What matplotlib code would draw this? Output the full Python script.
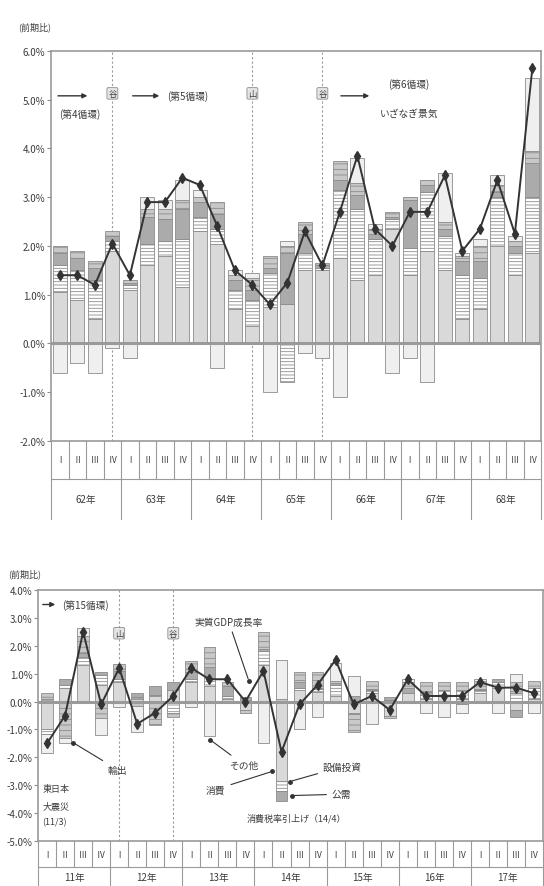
import numpy as np
import matplotlib
matplotlib.use("Agg")
import matplotlib.pyplot as plt

plt.rcParams['font.family'] = ['Noto Sans CJK JP', 'DejaVu Sans']
plt.rcParams['hatch.color'] = '#8c8c8c'
plt.rcParams['hatch.linewidth'] = 0.6

# data (前期比, %)
quarters = ["Ⅰ", "Ⅱ", "Ⅲ", "Ⅳ"]
years_top = ["62年", "63年", "64年", "65年", "66年", "67年", "68年"]
years_bot = ["11年", "12年", "13年", "14年", "15年", "16年", "17年"]
comp_names = ["消費", "設備投資", "公需", "輸出", "その他"]

# 1962-1968
gdp_top = [1.4, 1.4, 1.2, 2.05, 1.4, 2.9, 2.9, 3.4, 3.25, 2.4, 1.5, 1.2, 0.8, 1.25,
           2.3, 1.6, 2.7, 3.85, 2.35, 2.0, 2.7, 2.7, 3.45, 1.9, 2.35, 3.35, 2.25, 5.65]
cons_top = [1.05, 0.9, 0.5, 1.9, 1.1, 1.6, 1.8, 1.15, 2.3, 2.05, 0.7, 0.35, 0.75, 0.8,
            1.5, 1.5, 1.75, 1.3, 1.4, 2.35, 1.4, 1.9, 1.5, 0.5, 0.7, 2.0, 1.4, 1.85]
inv_top = [0.55, 0.6, 0.8, 0.2, 0.1, 0.45, 0.3, 1.0, 0.3, 0.3, 0.4, 0.55, 0.7, -0.8,
           0.35, 0.05, 1.4, 1.45, 0.75, 0.2, 0.55, 1.2, 0.7, 0.9, 0.65, 1.0, 0.45, 1.15]
pub_top = [0.25, 0.25, 0.25, 0.1, 0.05, 0.55, 0.45, 0.6, 0.3, 0.3, 0.2, 0.2, 0.1, 1.05,
           0.4, 0.05, 0.2, 0.3, 0.1, 0.05, 1.0, 0.15, 0.15, 0.3, 0.35, 0.1, 0.15, 0.7]
exp_top = [0.15, 0.15, 0.15, 0.1, 0.05, 0.15, 0.2, 0.2, 0.1, 0.25, 0.1, 0.25, 0.25, 0.15,
           0.25, 0.05, 0.4, 0.25, 0.1, 0.1, 0.05, 0.1, 0.15, 0.1, 0.3, 0.15, 0.1, 0.25]
oth_top = [-0.6, -0.4, -0.6, -0.1, -0.3, 0.25, 0.2, 0.4, 0.15, -0.5, 0.1, 0.1, -1.0, 0.1,
           -0.2, -0.3, -1.1, 0.5, 0.1, -0.6, -0.3, -0.8, 1.0, 0.05, 0.15, 0.2, 0.1, 1.5]

# 2011-2017
gdp_bot = [-1.5, -0.5, 2.5, -0.1, 1.2, -0.8, -0.4, 0.2, 1.2, 0.8, 0.8, 0.0, 1.1, -1.8,
           -0.1, 0.6, 1.5, -0.1, 0.2, -0.3, 0.8, 0.2, 0.2, 0.2, 0.7, 0.5, 0.5, 0.3]
cons_bot = [-1.0, 0.5, 1.3, 0.6, 0.7, 0.1, 0.2, 0.4, 0.7, 0.55, 0.1, -0.3, 1.3, -2.85,
            0.4, 0.35, 0.2, -0.4, 0.3, -0.5, 0.3, 0.1, 0.2, 0.1, 0.3, 0.5, -0.3, 0.1]
inv_bot = [-0.15, 0.1, 0.3, 0.35, 0.1, 0.05, 0.05, -0.4, 0.1, 0.3, 0.1, 0.05, 0.5, -0.35,
           0.1, 0.1, 0.4, -0.05, 0.1, 0.05, 0.0, 0.15, 0.2, 0.3, 0.1, 0.2, 0.3, 0.4]
pub_bot = [0.1, 0.2, 0.15, 0.1, 0.3, 0.15, 0.3, 0.3, 0.25, 0.4, 0.35, 0.1, 0.1, -0.35,
           0.2, 0.05, 0.05, 0.2, 0.05, 0.1, 0.2, 0.1, 0.0, -0.1, 0.05, 0.1, -0.25, 0.0]
exp_bot = [0.2, -1.3, 0.6, -0.6, 0.25, -0.15, -0.8, -0.15, 0.4, 0.7, 0.15, -0.1, 0.6, 0.1,
           0.35, 0.55, 0.1, -0.65, 0.3, -0.1, 0.2, 0.35, 0.3, 0.3, 0.3, 0.0, 0.4, 0.25]
oth_bot = [-0.7, -0.2, 0.3, -0.6, -0.2, -0.95, -0.05, 0.0, -0.2, -1.25, -0.05, 0.0, -1.5, 1.4,
           -1.0, -0.55, 0.65, 0.7, -0.8, 0.0, 0.1, -0.4, -0.55, -0.3, 0.05, -0.4, 0.3, -0.4]

styles = [
    dict(color='#d9d9d9'),
    dict(color='white', hatch='-----'),
    dict(color='#ababab'),
    dict(color='#c8c8c8', hatch='---'),
    dict(color='#efefef'),
]
edge = '#8c8c8c'
txt = '#3c3c3c'


def draw_stack(ax, comps, width):
    x = np.arange(len(comps[0]))
    pos_base = np.zeros(len(x))
    neg_base = np.zeros(len(x))
    for vals, st in zip(comps, styles):
        v = np.array(vals, dtype=float)
        for part, base in ((np.clip(v, 0, None), pos_base), (np.clip(v, None, 0), neg_base)):
            m = part != 0
            ax.bar(x[m], part[m], width, bottom=base[m], edgecolor=edge,
                   linewidth=0.6, zorder=2, **st)
            base += part


def draw_table(ax, years, h1, h2, fs):
    tr = ax.get_xaxis_transform()
    n = len(years) * 4
    for i in range(n + 1):
        xb = i - 0.5
        if i % 4 == 0:
            ax.plot([xb, xb], [0, -h1 - h2], color='#9a9a9a', lw=0.8,
                    transform=tr, clip_on=False)
        else:
            ax.plot([xb, xb], [0, -h1], color='#9a9a9a', lw=0.8,
                    transform=tr, clip_on=False)
    ax.plot([-0.5, n - 0.5], [-h1, -h1], color='#9a9a9a', lw=0.8,
            transform=tr, clip_on=False)
    for i in range(n):
        ax.text(i, -h1 / 2, quarters[i % 4], transform=tr, ha='center',
                va='center', fontsize=fs - 1, color=txt)
    for k, y in enumerate(years):
        ax.text(4 * k + 1.5, -h1 - h2 / 2, y, transform=tr, ha='center',
                va='center', fontsize=fs, color=txt)


def style_axes(ax, lo, hi):
    ax.set_xlim(-0.5, 27.5)
    ax.set_ylim(lo, hi)
    ax.set_xticks([])
    ticks = np.arange(lo, hi + 0.01, 1.0)
    ax.set_yticks(ticks)
    ax.set_yticklabels([f"{t:.1f}%" for t in ticks], fontsize=7, color=txt)
    ax.tick_params(axis='y', length=3, width=0.8, color='#8c8c8c', pad=1)
    for s in ax.spines.values():
        s.set_color('#9a9a9a')
        s.set_linewidth(1.2)
    ax.axhline(0, color='#9a9a9a', lw=2.2, zorder=3)


fig = plt.figure(figsize=(5.44, 8.87), dpi=100)

# ---- top chart ----
ax1 = fig.add_axes([0.094, 0.5017, 0.9007, 0.4397])
style_axes(ax1, -2, 6)
draw_stack(ax1, [cons_top, inv_top, pub_top, exp_top, oth_top], 0.8)
x = np.arange(28)
ax1.plot(x, gdp_top, color='#333333', lw=1.4, marker='d', ms=5, zorder=4)
for xv in (3, 11, 15):
    ax1.axvline(xv, color='#9a9a9a', lw=0.8, ls=(0, (2, 2)), zorder=1)
for xv, lab in ((3, "谷"), (11, "山"), (15, "谷")):
    ax1.text(xv, 5.13, lab, ha='center', va='center', fontsize=6, color=txt, zorder=5,
             bbox=dict(boxstyle='round,pad=0.15', fc='#e6e6e6', ec='#8c8c8c', lw=0.6))
arr = dict(arrowstyle='-|>', color='#333333', lw=1.0, mutation_scale=7)
ax1.annotate("", xy=(1.73, 5.08), xytext=(-0.27, 5.08), arrowprops=arr)
ax1.text(1.16, 4.72, "(第4循環)", ha='center', va='center', fontsize=7, color=txt)
ax1.annotate("", xy=(5.84, 5.08), xytext=(4.0, 5.08), arrowprops=arr)
ax1.text(7.3, 5.08, "(第5循環)", ha='center', va='center', fontsize=7, color=txt)
ax1.annotate("", xy=(17.84, 5.08), xytext=(15.9, 5.08), arrowprops=arr)
ax1.text(19.96, 5.33, "(第6循環)", ha='center', va='center', fontsize=7, color=txt)
ax1.text(19.96, 4.72, "いざなぎ景気", ha='center', va='center', fontsize=7, color=txt)
draw_table(ax1, years_top, 0.0974, 0.103, 7)
fig.text(0.064, 0.969, "(前期比)", ha='center', va='center', fontsize=6.5, color=txt)

# ---- bottom chart ----
ax2 = fig.add_axes([0.0699, 0.0507, 0.9283, 0.283])
style_axes(ax2, -5, 4)
draw_stack(ax2, [cons_bot, inv_bot, pub_bot, exp_bot, oth_bot], 0.65)
ax2.plot(x, gdp_bot, color='#333333', lw=1.4, marker='d', ms=5, zorder=4)
for xv in (4, 7):
    ax2.axvline(xv, color='#9a9a9a', lw=0.8, ls=(0, (2, 2)), zorder=1)
for xv, lab in ((4, "山"), (7, "谷")):
    ax2.text(xv, 2.45, lab, ha='center', va='center', fontsize=6, color=txt, zorder=5,
             bbox=dict(boxstyle='round,pad=0.15', fc='#e6e6e6', ec='#8c8c8c', lw=0.6))
ax2.annotate("", xy=(0.61, 3.48), xytext=(-0.39, 3.48), arrowprops=arr)
ax2.text(0.83, 3.48, "(第15循環)", ha='left', va='center', fontsize=7, color=txt)

lead = dict(arrowstyle='-', color='#333333', lw=0.8)


def leader(ax, label, xy_dot, xy_text, ha='center'):
    ax.annotate(label, xy=xy_dot, xytext=xy_text, ha=ha, va='center', fontsize=7,
                color=txt, arrowprops=lead, zorder=6)
    ax.plot(*xy_dot, 'o', color='#333333', ms=2.5, zorder=6)


leader(ax2, "実質GDP成長率", (11.2, 0.72), (10.07, 2.87))
leader(ax2, "輸出", (1.44, -1.47), (3.37, -2.44), ha='left')
leader(ax2, "その他", (9.02, -1.36), (10.1, -2.26), ha='left')
leader(ax2, "消費", (12.5, -2.5), (9.9, -3.15), ha='right')
leader(ax2, "設備投資", (13.45, -2.87), (15.3, -2.33), ha='left')
leader(ax2, "公需", (13.56, -3.37), (15.8, -3.32), ha='left')
ax2.text(13.83, -4.16, "消費税率引上げ（14/4）", ha='center', va='center',
         fontsize=6.5, color=txt)
ax2.text(-0.25, -3.12, "東日本", ha='left', va='center', fontsize=6.5, color=txt)
ax2.text(-0.25, -3.72, "大震災", ha='left', va='center', fontsize=6.5, color=txt)
ax2.text(-0.25, -4.32, "(11/3)", ha='left', va='center', fontsize=6.5, color=txt)
draw_table(ax2, years_bot, 0.104, 0.075, 7)
fig.text(0.045, 0.353, "(前期比)", ha='center', va='center', fontsize=6.5, color=txt)

fig.savefig("out.png", dpi=100)
